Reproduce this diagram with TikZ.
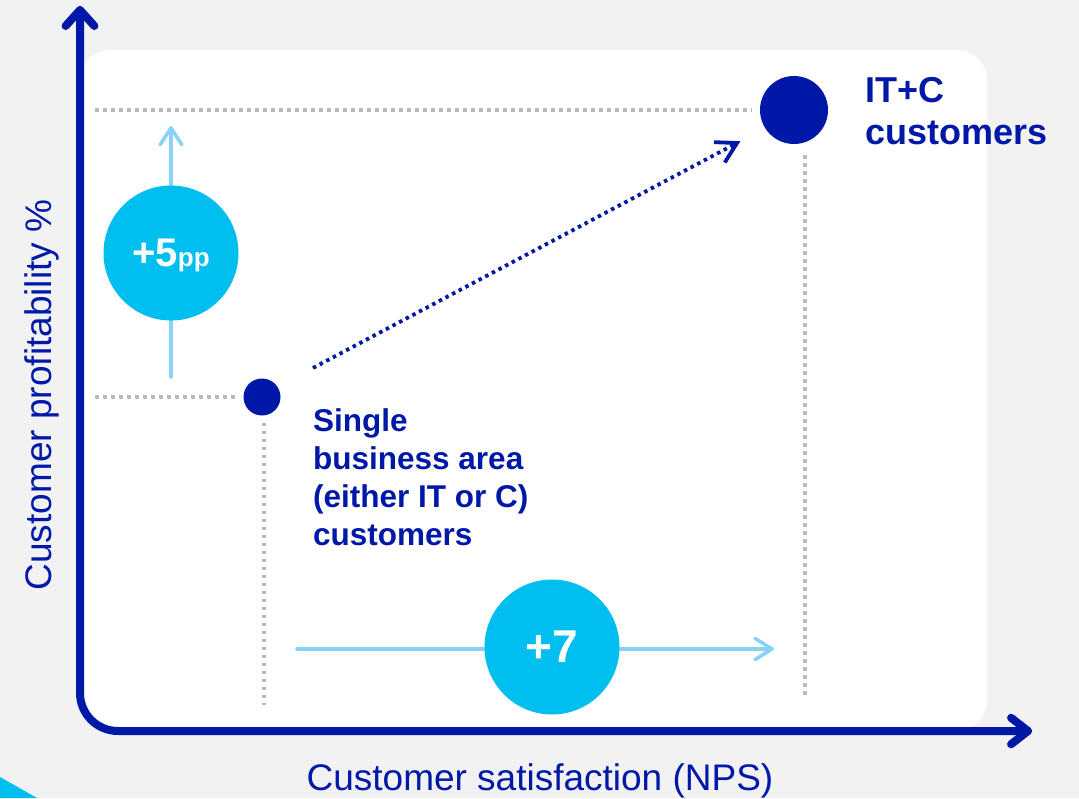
\documentclass[tikz,border=0pt]{standalone}
\usepackage{fontspec}
\setmainfont{Liberation Sans}
\usetikzlibrary{calc}
\definecolor{dblue}{RGB}{0,24,168}
\definecolor{cyanc}{RGB}{0,190,240}
\definecolor{lblue}{RGB}{135,210,246}
\definecolor{dotgray}{RGB}{185,185,185}
\definecolor{bggray}{RGB}{242,242,242}
\tikzset{
 axisline/.style={draw=dblue, line width=8pt, line cap=round, line join=round},
 guide/.style={draw=dotgray, line width=3.3pt, dash pattern=on 3.5pt off 4.5pt},
 lightline/.style={draw=lblue, line width=3.5pt, line cap=round, line join=round},
 trend/.style={draw=dblue, line width=3.8pt, dash pattern=on 3.5pt off 4pt},
 trendhead/.style={draw=dblue, line width=3.8pt, line join=miter},
 dot/.style={circle, fill=dblue, inner sep=0pt},
 bubble/.style={circle, fill=cyanc, inner sep=0pt, minimum size=135pt, text=white, text depth=0pt},
 lbl/.style={text=dblue, inner sep=0pt, align=left},
 axislabel/.style={text=dblue, inner sep=0pt, font=\fontsize{37}{44}\selectfont},
}
\begin{document}
\begin{tikzpicture}[x=1pt,y=-1pt]
\useasboundingbox (0,0) rectangle (1079,798);
\fill[bggray] (0,0) rectangle (1079,798);
\fill[cyanc] (0,777) -- (37,798) -- (0,798) -- cycle;
\fill[white, rounded corners=30pt] (80,50) rectangle (987,731);

% dots
\node[dot, minimum size=68pt] (big) at (794,110) {};
\node[dot, minimum size=37pt] (small) at (262,397) {};

% guides
\coordinate (gA) at (95,110);
\coordinate (gB) at (95,397);
\coordinate (gC) at (264,705);
\coordinate (gD) at (805,155);
\coordinate (gE) at (805,698);
\draw[guide] (gA) -- ($(big.west)+(-8,0)$);
\draw[guide] (gB) -- ($(small.west)+(-8,0)$);
\draw[guide] ($(small.south)+(2,7)$) -- (gC);
\draw[guide] (gD) -- (gE);

% light arrows
\coordinate (v0) at (171,377);
\coordinate (v1) at (171,128);
\draw[lightline] (v0) -- (v1);
\draw[lightline] ($(v1)!20pt!33:(v0)$) -- (v1) -- ($(v1)!20pt!-33:(v0)$);
\coordinate (h0) at (297,649);
\coordinate (h1) at (772,649);
\draw[lightline] (h0) -- (h1);
\draw[lightline] ($(h1)!20pt!32:(h0)$) -- (h1) -- ($(h1)!20pt!-32:(h0)$);

\node[bubble] (p5) at (171,253) {\bfseries\fontsize{40}{48}\selectfont +5\fontsize{26}{30}\selectfont pp};
\node[bubble] (p7) at (552,647) {\bfseries\fontsize{46}{54}\selectfont +7};

% trend arrow
\coordinate (t0) at (313,368);
\coordinate (t1) at (737,143);
\draw[trend] (t0) -- ($(t1)!2pt!(t0)$);
\draw[trendhead] ($(t1)!23pt!30:(t0)$) -- (t1) -- ($(t1)!23pt!-30:(t0)$);

% axes
\coordinate (ytip) at (80,10);
\coordinate (origin) at (80,731);
\coordinate (xtip) at (1028,731);
\draw[axisline, rounded corners=38pt] (ytip) -- (origin) -- (xtip);
\draw[axisline] ($(ytip)!21.5pt!42:(origin)$) -- (ytip) -- ($(ytip)!21.5pt!-42:(origin)$);
\draw[axisline] ($(xtip)!21.5pt!38:(origin)$) -- (xtip) -- ($(xtip)!21.5pt!-38:(origin)$);

% labels
\node[lbl, anchor=north west, font=\bfseries\fontsize{36}{42}\selectfont] (itc) at (865,77) {IT+C\\customers};
\node[lbl, anchor=north west, font=\bfseries\fontsize{31.5}{38.3}\selectfont] (single) at (313,408) {Single\\business area\\(either IT or C)\\customers};
\node[axislabel, anchor=base] (xl) at (540,790.5) {Customer satisfaction (NPS)};
\node[axislabel, anchor=base, rotate=90] (yl) at (51,395) {Customer profitability \%};
\end{tikzpicture}
\end{document}
